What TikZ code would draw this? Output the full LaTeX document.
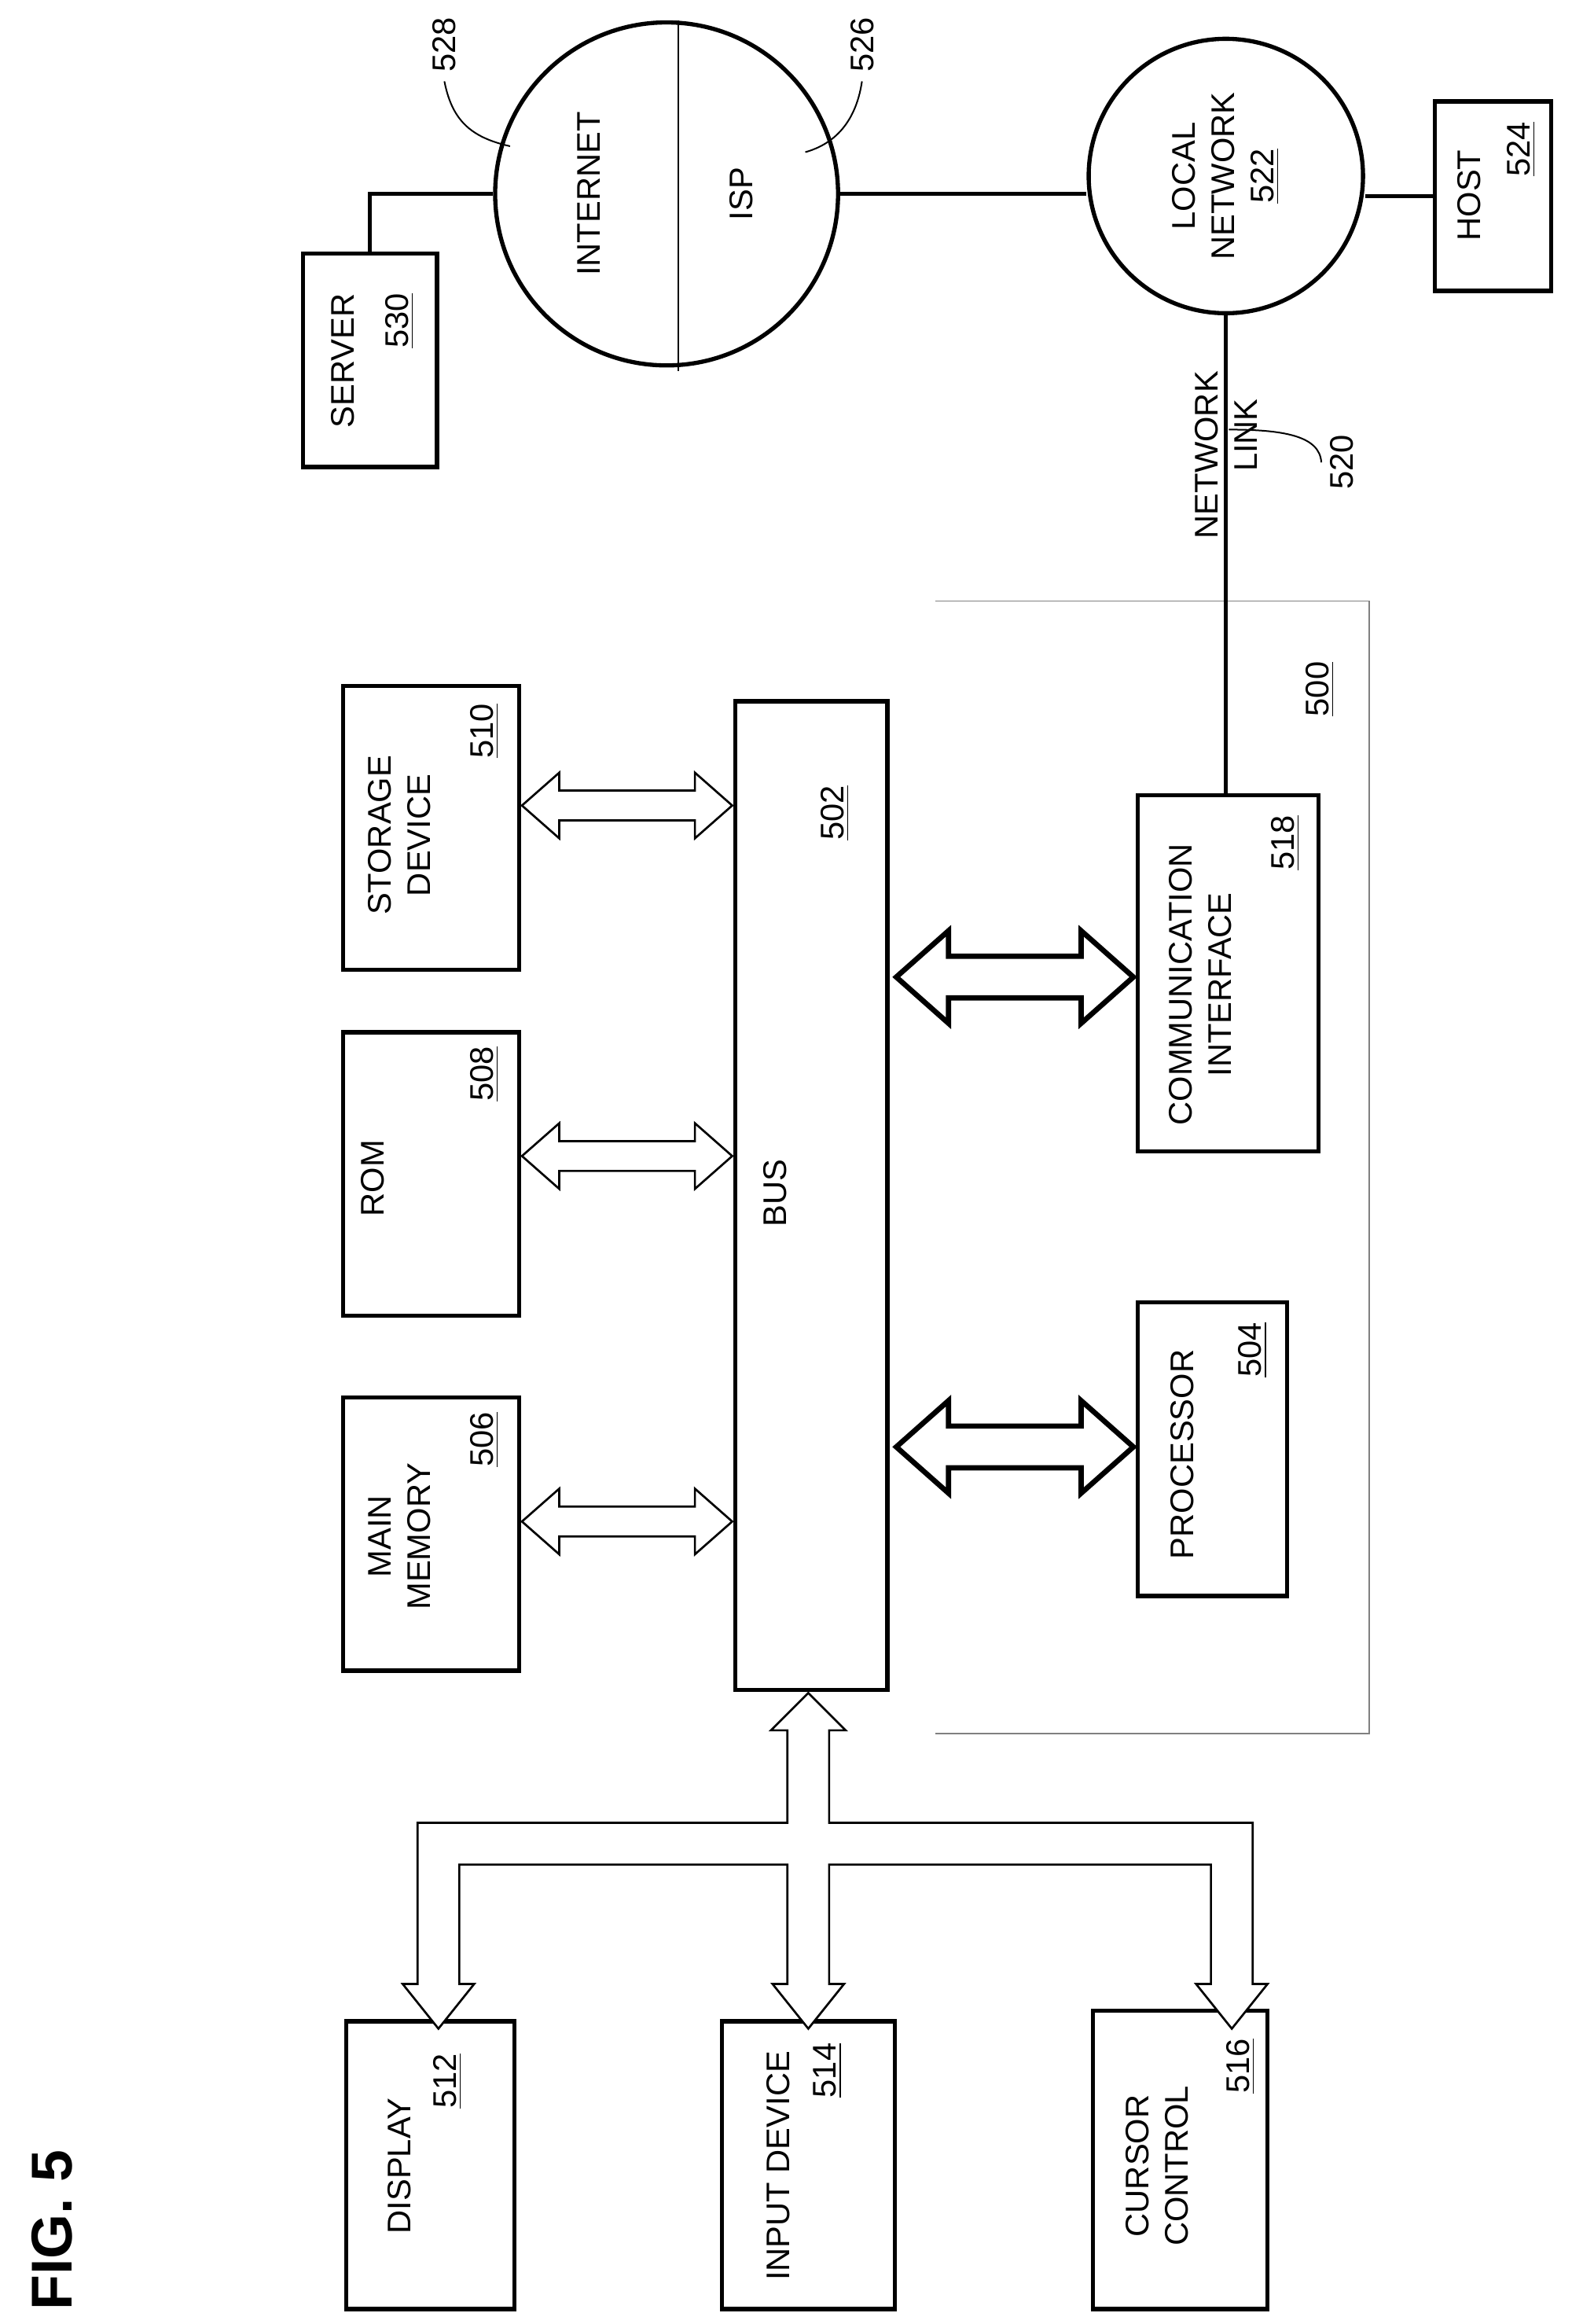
\documentclass[tikz,border=0pt]{standalone}
\usepackage{fontspec}
\setmainfont{Liberation Sans}
\usepackage{tikz}
\usetikzlibrary{positioning}

\tikzset{
  blk/.style={draw,line width=1.6pt},
  txt/.style={rotate=90,align=center,font=\fontsize{12.5}{15}\selectfont},
  num/.style={rotate=90,font=\fontsize{12.5}{15}\selectfont},
  hollow/.style={draw,line width=0.8pt,fill=white},
  bighollow/.style={draw,line width=2pt,fill=white},
  lead/.style={line width=0.6pt}
}

% hollow double arrow: {x1}{x2}{y}{shaft half}{head half}{head length}{style}
\newcommand{\dblarr}[7]{
  \path[#7] (#1,#3) -- ++(#6,-#5) -- ++(0,#5-#4) -- (#2-#6,#3-#4) -- ++(0,#4-#5)
    -- (#2,#3) -- ++(-#6,#5) -- ++(0,#4-#5) -- (#1+#6,#3+#4) -- ++(0,#5-#4) -- cycle;
}

\begin{document}
\begin{tikzpicture}[x=0.02cm,y=-0.02cm]
  \useasboundingbox (0,0) rectangle (1054,1558);

  \node[rotate=90,font=\bfseries\fontsize{22}{26}\selectfont] (fig) at (35,1495) {FIG. 5};

  % network side
  \node[blk,minimum width=1.8cm,minimum height=2.86cm] (server) at (248,241.5) {};
  \node[blk,circle,minimum size=4.6cm] (internet) at (447,130) {};
  \node[blk,circle,minimum size=3.68cm] (localnet) at (822,118) {};
  \node[blk,minimum width=1.56cm,minimum height=2.54cm] (host) at (1001,131.5) {};
  \draw[line width=0.6pt] (internet.north) ++(8,0) coordinate (divtop) -- ++(0,235);

  \node[txt] (tserver) at (230,242) {SERVER};
  \node[num] (nserver) at (268,215) {\underline{530}};
  \node[txt] (tinternet) at (395,130) {INTERNET};
  \node[txt] (tisp) at (497,130) {ISP};
  \node[txt] (tlocal) at (822,118) {LOCAL\\NETWORK\\\underline{522}};
  \node[txt] (thost) at (985,131) {HOST};
  \node[num] (nhost) at (1020,100) {\underline{524}};
  \node[txt] (tlink) at (822,305) {NETWORK\\\hspace*{1.2em}LINK};

  \node[num] (n528) at (298,30) {528};
  \node[num] (n526) at (578,30) {526};
  \node[num] (n520) at (900,310) {520};
  \draw[lead] (n528.west) .. controls (303,80) and (315,92) .. (342,98);
  \draw[lead] (n526.west) .. controls (575,75) and (565,95) .. (540,102);
  \draw[lead] (n520.north) .. controls (885,292) and (860,288) .. (824,288);

  \draw[line width=1.6pt] (server.north) |- (internet.west);
  \draw[line width=1.6pt] (internet.east) -- (internet.east -| localnet.west);
  \draw[line width=1.6pt] (host.west) -- (host.west -| localnet.east);

  % computer system 500
  \draw[gray,line width=0.5pt] (627,403) -- (918,403) -- (918,1162) -- (627,1162);
  \node[num] (n500) at (885,462) {\underline{500}};

  \node[blk,minimum width=2.36cm,minimum height=3.8cm] (storage) at (289,555) {};
  \node[blk,minimum width=2.36cm,minimum height=3.8cm] (rom) at (289,787) {};
  \node[blk,minimum width=2.36cm,minimum height=3.66cm] (mainmem) at (289,1028.5) {};
  \node[blk,minimum width=2.04cm,minimum height=13.26cm] (bus) at (544,801.5) {};
  \node[blk,minimum width=2.42cm,minimum height=4.78cm] (comm) at (823.5,652.5) {};
  \node[blk,minimum width=2.0cm,minimum height=3.94cm] (proc) at (813,971.5) {};

  \draw[line width=1.6pt] (localnet.south) -- (comm.north -| localnet.south);

  \node[txt] (tstorage) at (268,560) {STORAGE\\DEVICE};
  \node[num] (nstorage) at (325,490) {\underline{510}};
  \node[txt] (trom) at (250,790) {ROM};
  \node[num] (nrom) at (325,720) {\underline{508}};
  \node[txt] (tmainmem) at (268,1030) {MAIN\\MEMORY};
  \node[num] (nmainmem) at (325,965) {\underline{506}};
  \node[txt] (tbus) at (520,800) {BUS};
  \node[num] (nbus) at (560,545) {\underline{502}};
  \node[txt] (tcomm) at (805,660) {COMMUNICATION\\INTERFACE};
  \node[num] (ncomm) at (862,565) {\underline{518}};
  \node[txt] (tproc) at (793,975) {PROCESSOR};
  \node[num] (nproc) at (840,905) {\underline{504}};

  \dblarr{350}{491}{540}{10}{22}{25}{hollow}
  \dblarr{350}{491}{775}{10}{22}{25}{hollow}
  \dblarr{350}{491}{1020}{10}{22}{25}{hollow}
  \dblarr{601}{760}{655}{14}{31}{35}{bighollow}
  \dblarr{601}{760}{970}{14}{31}{35}{bighollow}

  % peripherals
  \node[blk,minimum width=2.26cm,minimum height=3.86cm] (display) at (288.5,1451.5) {};
  \node[blk,minimum width=2.32cm,minimum height=3.86cm] (input) at (542,1451.5) {};
  \node[blk,minimum width=2.34cm,minimum height=4.0cm] (cursor) at (791.5,1448) {};
  \node[txt] (tdisplay) at (268,1452) {DISPLAY};
  \node[num] (ndisplay) at (300,1395) {\underline{512}};
  \node[txt] (tinput) at (522,1452) {INPUT DEVICE};
  \node[num] (ninput) at (555,1388) {\underline{514}};
  \node[txt] (tcursor) at (776,1452) {CURSOR\\CONTROL};
  \node[num] (ncursor) at (832,1385) {\underline{516}};

  \path[hollow] (542,1135) -- (567,1160) -- (556,1160) -- (556,1222) -- (840,1222)
    -- (840,1330) -- (850,1330) -- (826,1360) -- (802,1330) -- (812,1330) -- (812,1250)
    -- (556,1250) -- (556,1330) -- (566,1330) -- (542,1360) -- (518,1330) -- (528,1330)
    -- (528,1250) -- (308,1250) -- (308,1330) -- (318,1330) -- (294,1360) -- (270,1330)
    -- (280,1330) -- (280,1222) -- (528,1222) -- (528,1160) -- (517,1160) -- cycle;
\end{tikzpicture}
\end{document}
